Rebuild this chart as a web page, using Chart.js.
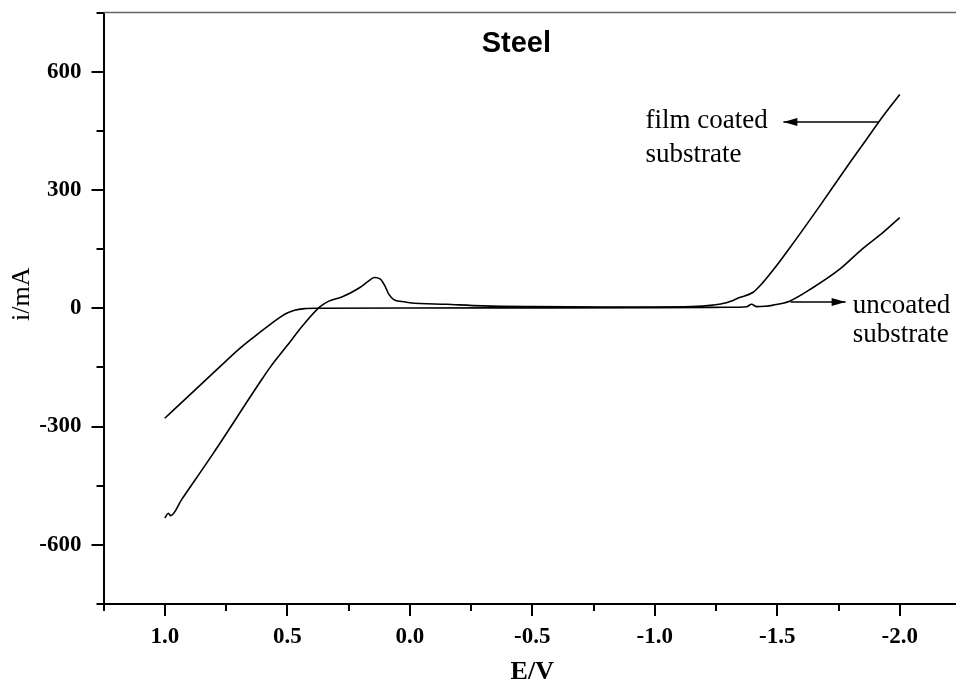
<!DOCTYPE html>
<html>
<head>
<meta charset="utf-8">
<script src="https://cdn.jsdelivr.net/npm/chart.js@4.4.0/dist/chart.umd.min.js"></script>
<style>
  html, body { margin: 0; padding: 0; background: #fff; overflow: hidden; }
</style>
</head>
<body>
<canvas id="chart" width="962" height="685"></canvas>
<script>
const xTicks = [1.0, 0.5, 0.0, -0.5, -1.0, -1.5, -2.0];
const yTicks = [600, 300, 0, -300, -600];

// film coated substrate (E / V, i / mA)
const filmE = [1.0, 0.985, 0.976, 0.93, 0.8, 0.6, 0.57, 0.502, 0.434, 0.366, 0.33, 0.275, 0.21, 0.17, 0.145, 0.12, 0.1, 0.085, 0.065, 0.03, 0.0, -0.15, -0.3, -0.5, -0.8, -1.0, -1.15, -1.237, -1.292, -1.346, -1.4, -1.441, -1.496, -1.55, -1.673, -1.796, -1.864, -1.921, -2.0];
const filmI = [-532, -520, -526, -484, -366, -177, -150, -96, -42, 4, 18, 29, 50, 68, 78, 74, 55, 35, 22, 17, 14, 10, 6, 4, 3, 3, 4, 8, 14, 27, 40, 65, 107, 152, 259, 369, 428, 478, 542];

// uncoated substrate
const uncoatedE = [1.0, 0.9, 0.79, 0.69, 0.63, 0.58, 0.53, 0.5, 0.47, 0.43, 0.38, 0.0, -0.5, -1.0, -1.3, -1.375, -1.395, -1.416, -1.45, -1.484, -1.55, -1.645, -1.755, -1.85, -1.931, -2.0];
const uncoatedI = [-279, -221, -157, -100, -70, -46, -23, -12, -5, -1, 0, 0.5, 1, 1.5, 2.5, 4, 10, 4, 5, 8, 18, 52, 99, 152, 192, 230];

const serif = '"Liberation Serif", "Times New Roman", serif';
const sans = '"Liberation Sans", Arial, sans-serif';

function toPoints(xs, ys) {
  return xs.map((x, i) => ({ x: x, y: ys[i] }));
}

function drawArrow(ctx, x1, y1, x2, y2) {
  ctx.beginPath();
  ctx.moveTo(x1, y1);
  ctx.lineTo(x2, y2);
  ctx.stroke();
  const dir = Math.sign(x2 - x1);
  ctx.beginPath();
  ctx.moveTo(x2, y2);
  ctx.lineTo(x2 - dir * 14, y2 - 4);
  ctx.lineTo(x2 - dir * 14, y2 + 4);
  ctx.closePath();
  ctx.fill();
}

const decorPlugin = {
  id: "decor",
  afterDraw(chart) {
    const ctx = chart.ctx;
    const area = chart.chartArea;
    const xs = chart.scales.x;
    const ys = chart.scales.y;
    ctx.save();

    // thin top frame line
    ctx.strokeStyle = "#666";
    ctx.lineWidth = 1.3;
    ctx.beginPath();
    ctx.moveTo(area.left, area.top);
    ctx.lineTo(area.right, area.top);
    ctx.stroke();

    // tick marks (major and minor)
    ctx.strokeStyle = "#000";
    ctx.lineWidth = 2;
    for (let v = -750; v <= 750; v += 150) {
      const py = Math.round(ys.getPixelForValue(v));
      const len = yTicks.includes(v) ? 12 : 7;
      ctx.beginPath();
      ctx.moveTo(area.left, py);
      ctx.lineTo(area.left - len, py);
      ctx.stroke();
    }
    for (let k = 0; k <= 14; k++) {
      const v = 1.25 - k * 0.25;
      const px = Math.round(xs.getPixelForValue(v));
      const major = xTicks.some((t) => Math.abs(t - v) < 1e-6);
      const len = major ? 12 : 7;
      ctx.beginPath();
      ctx.moveTo(px, area.bottom);
      ctx.lineTo(px, area.bottom + len);
      ctx.stroke();
    }

    ctx.fillStyle = "#000";

    // y axis title
    ctx.save();
    ctx.translate(22, (area.top + area.bottom) / 2 - 14);
    ctx.rotate(-Math.PI / 2);
    ctx.font = "26px " + serif;
    ctx.textAlign = "center";
    ctx.textBaseline = "middle";
    ctx.fillText("i/mA", 0, 0);
    ctx.restore();

    // panel title
    ctx.font = "bold 29px " + sans;
    ctx.textAlign = "center";
    ctx.textBaseline = "middle";
    ctx.fillText("Steel", xs.getPixelForValue(-0.435), ys.getPixelForValue(670));

    // annotations
    ctx.font = "27px " + serif;
    ctx.textAlign = "left";
    ctx.textBaseline = "alphabetic";
    const fx = xs.getPixelForValue(-0.962);
    ctx.fillText("film coated", fx, ys.getPixelForValue(456));
    ctx.fillText("substrate", fx, ys.getPixelForValue(372));
    const ux = xs.getPixelForValue(-1.808);
    ctx.fillText("uncoated", ux, ys.getPixelForValue(-13));
    ctx.fillText("substrate", ux, ys.getPixelForValue(-85));

    ctx.lineWidth = 1.5;
    drawArrow(ctx, xs.getPixelForValue(-1.914), ys.getPixelForValue(472),
      xs.getPixelForValue(-1.525), ys.getPixelForValue(472));
    drawArrow(ctx, xs.getPixelForValue(-1.554), ys.getPixelForValue(16),
      xs.getPixelForValue(-1.779), ys.getPixelForValue(16));

    ctx.restore();
  },
};

const tickFont = { family: serif, size: 23, weight: "bold" };

new Chart(document.getElementById("chart").getContext("2d"), {
  type: "scatter",
  data: {
    datasets: [
      {
        label: "film coated substrate",
        data: toPoints(filmE, filmI),
        showLine: true,
        borderColor: "#000",
        borderWidth: 1.6,
        pointRadius: 0,
        cubicInterpolationMode: "monotone",
      },
      {
        label: "uncoated substrate",
        data: toPoints(uncoatedE, uncoatedI),
        showLine: true,
        borderColor: "#000",
        borderWidth: 1.6,
        pointRadius: 0,
        cubicInterpolationMode: "monotone",
      },
    ],
  },
  options: {
    responsive: false,
    animation: false,
    layout: {
      padding: { top: 12.5, right: 1, left: 0, bottom: 0 },
    },
    scales: {
      x: {
        type: "linear",
        min: -2.25,
        max: 1.25,
        reverse: true,
        afterBuildTicks: (s) => {
          s.ticks = xTicks.map((v) => ({ value: v }));
        },
        afterFit: (s) => {
          s.height = 81;
          s.paddingLeft = 0;
          s.paddingRight = 0;
        },
        ticks: {
          callback: (v) => Number(v).toFixed(1),
          font: tickFont,
          color: "#000",
          padding: 19,
          maxRotation: 0,
          autoSkip: false,
        },
        grid: { display: false, drawTicks: false },
        border: { display: true, color: "#000", width: 2 },
        title: {
          display: true,
          text: "E/V",
          color: "#000",
          font: { family: serif, size: 26, weight: "bold", lineHeight: 1 },
          padding: { top: 0, bottom: 0 },
        },
      },
      y: {
        type: "linear",
        min: -750,
        max: 750,
        afterBuildTicks: (s) => {
          s.ticks = yTicks.map((v) => ({ value: v }));
        },
        afterFit: (s) => {
          s.width = 103.5;
          s.paddingTop = 0;
          s.paddingBottom = 0;
        },
        ticks: {
          callback: (v) => String(v),
          font: tickFont,
          color: "#000",
          padding: 22,
        },
        grid: { display: false, drawTicks: false },
        border: { display: true, color: "#000", width: 2 },
      },
    },
    plugins: {
      legend: { display: false },
      tooltip: { enabled: false },
    },
  },
  plugins: [decorPlugin],
});
</script>
</body>
</html>
